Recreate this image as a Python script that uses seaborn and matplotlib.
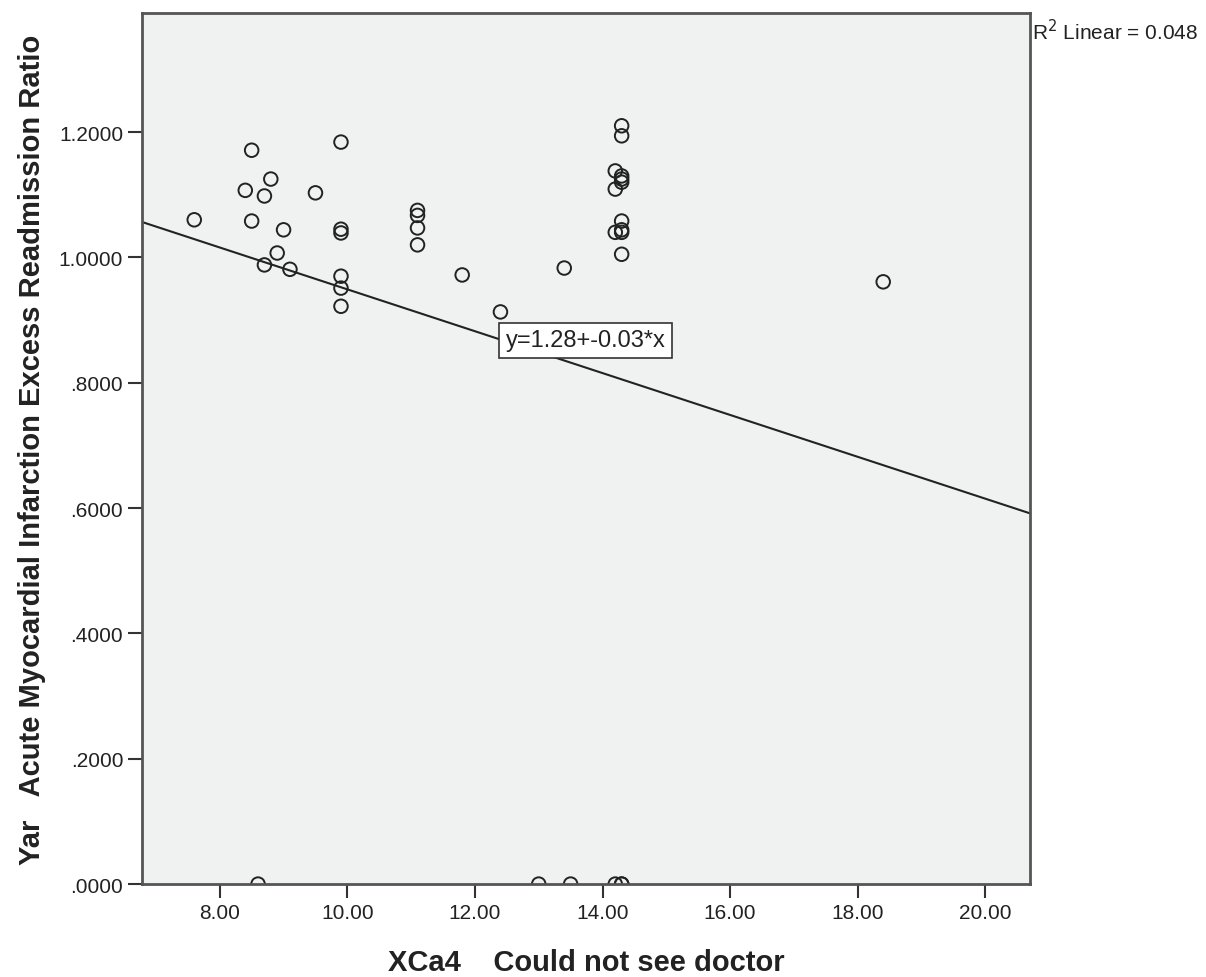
import numpy as np
import pandas as pd
import matplotlib
matplotlib.use("Agg")
import matplotlib.pyplot as plt
import seaborn as sns

# Data
x_vals = [7.6, 8.4, 8.5, 8.5, 8.7, 8.8, 8.7, 8.9, 9.0, 9.1, 9.5,
          9.9, 9.9, 9.9, 9.9, 9.9, 9.9,
          11.1, 11.1, 11.1, 11.1, 11.8, 12.4, 13.4,
          14.3, 14.3, 14.2, 14.3, 14.3, 14.2, 14.3,
          14.3, 14.2, 14.3, 14.3, 14.3, 18.4,
          8.6, 13.0, 13.5, 14.2, 14.3, 14.3]
y_vals = [1.060, 1.107, 1.171, 1.058, 1.098, 1.125, 0.988, 1.007, 1.044, 0.981, 1.103,
          1.184, 1.045, 1.039, 0.970, 0.951, 0.922,
          1.075, 1.067, 1.047, 1.020, 0.972, 0.913, 0.983,
          1.210, 1.194, 1.138, 1.130, 1.120, 1.109, 1.125,
          1.058, 1.040, 1.044, 1.040, 1.005, 0.961,
          0.0, 0.0, 0.0, 0.0, 0.0, 0.0]

# Fit line as reported in the chart (SPSS linear fit)
fit_intercept = 1.283
fit_slope = -0.0334

x_ticks = [8, 10, 12, 14, 16, 18, 20]
y_ticks = [0.0, 0.2, 0.4, 0.6, 0.8, 1.0, 1.2]
x_label = "XCa4    Could not see doctor"
y_label = "Yar   Acute Myocardial Infarction Excess Readmission Ratio"
fit_label = "y=1.28+-0.03*x"
r2_label = "R$^2$ Linear = 0.048"

df = pd.DataFrame({"x": x_vals, "y": y_vals})

sns.set_style("white")
plt.rcParams['font.family'] = ['Liberation Sans', 'DejaVu Sans']

fig = plt.figure(figsize=(12.06, 9.78), dpi=100)
ax = fig.add_axes([0.1177, 0.095, 0.854 - 0.1177, 0.9857 - 0.095])
ax.set_facecolor("#F0F1F1")

sns.scatterplot(data=df, x="x", y="y", ax=ax, s=95, facecolors="none",
                edgecolor="#222222", linewidth=1.4, legend=False)
ax.axline((0, fit_intercept), slope=fit_slope, color="#222222", linewidth=1.5)

ax.set_xlim(6.78, 20.7)
ax.set_ylim(0, 1.39)
ax.set_xticks(x_ticks)
ax.set_xticklabels([f"{v:.2f}" for v in x_ticks])
ax.set_yticks(y_ticks)
ax.set_yticklabels([f"{v:.4f}".lstrip("0") if v < 1 else f"{v:.4f}" for v in y_ticks])
ax.tick_params(axis="both", direction="out", length=10, width=1.5, color="#333333",
               labelsize=15, labelcolor="#222222", bottom=True, left=True)

for sp in ax.spines.values():
    sp.set_color("#555555")
    sp.set_linewidth(2)

ax.set_xlabel(x_label, fontsize=21, fontweight="bold", labelpad=19, color="#222222")
ax.set_ylabel(y_label, fontsize=21, fontweight="bold", labelpad=9, color="#222222")

ax.text(12.48, 0.868, fit_label, fontsize=17, color="#222222", va="center", ha="left",
        bbox=dict(boxstyle="square,pad=0.28", facecolor="white", edgecolor="#333333", linewidth=1.2))

fig.text(1032 / 1206, 1 - 32 / 978, r2_label, fontsize=15, color="#222222", va="center", ha="left")

fig.savefig("out.png", dpi=100)
